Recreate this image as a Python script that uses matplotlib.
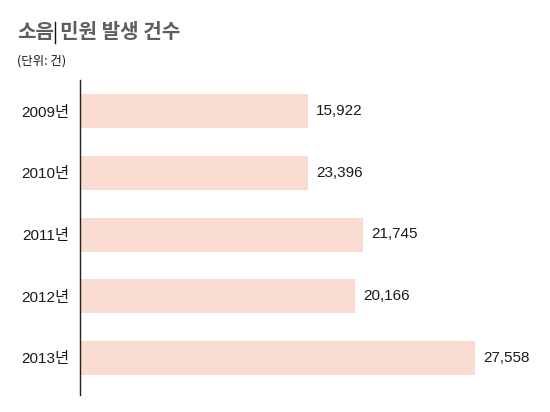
import matplotlib
matplotlib.use("Agg")
import matplotlib.pyplot as plt

years = ["2009년", "2010년", "2011년", "2012년", "2013년"]
value_labels = ["15,922", "23,396", "21,745", "20,166", "27,558"]
# bar lengths as drawn in the picture (the source graphic's bars do not all match the labels)
bar_lengths = [15907, 15907, 19744, 19186, 27558]

title_a = "소음"
title_b = "민원 발생 건수"
subtitle = "(단위: 건)"

W, H = 550, 412
fig = plt.figure(figsize=(W / 100, H / 100), dpi=100)
fig.patch.set_facecolor("white")

ax_left, ax_right = 80, 550
ax_top, ax_bottom = 80, 395
ax = fig.add_axes([ax_left / W, 1 - ax_bottom / H, (ax_right - ax_left) / W, (ax_bottom - ax_top) / H])

px_per_unit = (475 - 80) / 27558
ax.set_xlim(0, (ax_right - ax_left) / px_per_unit)
step = 61.75
ax.set_ylim((ax_bottom - 111) / step, (ax_top - 111) / step)

pos = list(range(len(years)))
ax.barh(pos, bar_lengths, height=34 / step, color="#f9dbd2", edgecolor="none")

num_font = ["Liberation Sans", "Noto Sans CJK KR", "DejaVu Sans"]
for p, v, lab in zip(pos, bar_lengths, value_labels):
    ax.text(v + 8 / px_per_unit, p, lab, va="center", ha="left", fontsize=11,
            family=num_font, color="#1a1a1a")

ax.set_yticks(pos)
ax.set_yticklabels(years, family=num_font, fontsize=11, color="#1a1a1a")
ax.tick_params(axis="y", length=0, pad=8)
ax.set_xticks([])
for s in ["top", "right", "bottom"]:
    ax.spines[s].set_visible(False)
ax.spines["left"].set_color("#222222")
ax.spines["left"].set_linewidth(1.0)

kr = ["Noto Sans CJK KR", "DejaVu Sans"]
fig.text(17 / W, 1 - 31 / H, title_a, family=kr, fontsize=14.5, fontweight="bold",
         color="#5e5e5e", va="center", ha="left")
fig.add_artist(plt.Line2D([55 / W, 55 / W], [1 - 22 / H, 1 - 43 / H], color="#111111", lw=1.0))
fig.text(60 / W, 1 - 31 / H, title_b, family=kr, fontsize=14.5, fontweight="bold",
         color="#5e5e5e", va="center", ha="left")
fig.text(17 / W, 1 - 61 / H, subtitle, family=kr, fontsize=9, color="#1a1a1a",
         va="center", ha="left")

fig.savefig("out.png", dpi=100, facecolor="white")
